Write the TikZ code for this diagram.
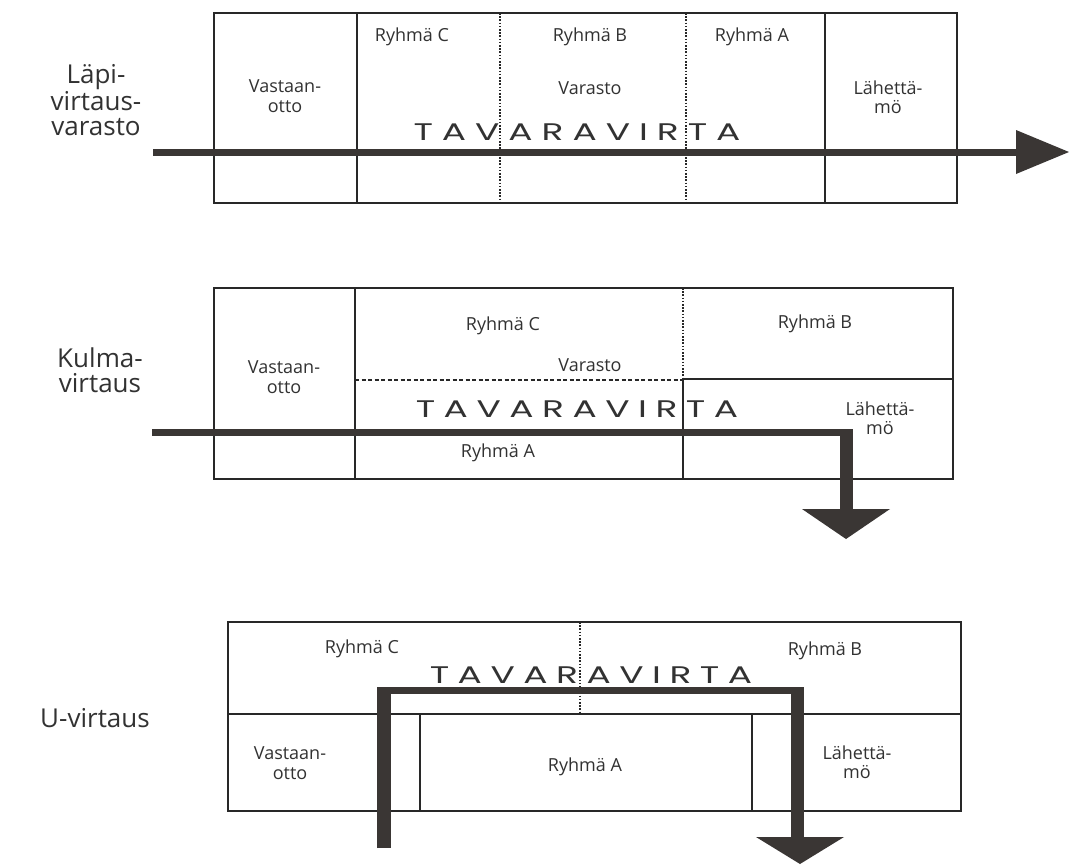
\documentclass[tikz,border=0pt]{standalone}
\usepackage{graphicx}
\usepackage{fontspec}
\setmainfont{Open Sans}
\newfontfamily\flowfont{Poppins}
\definecolor{flowgray}{RGB}{58,54,52}
\definecolor{inkgray}{RGB}{40,40,40}
\definecolor{txtgray}{RGB}{50,50,50}
% wide, letter-spaced flow label; the argument is the unscaled width
\newcommand{\flowword}[1]{\scalebox{1.5}[1]{\makebox[#1]{T\hfill A\hfill V\hfill A\hfill R\hfill A\hfill V\hfill I\hfill R\hfill T\hfill A}}}
\begin{document}
\begin{tikzpicture}[x=1pt,y=-1pt,
  wall/.style={draw=inkgray, line width=1.5pt},
  thinwall/.style={draw=inkgray, line width=1.1pt},
  dotline/.style={draw=inkgray, line width=2pt, dash pattern=on 1.6pt off 1.6pt},
  dashline/.style={draw=inkgray, line width=1.1pt, dash pattern=on 4pt off 2.5pt},
  flowh/.style={draw=flowgray, line width=7pt},
  flowv/.style={draw=flowgray, line width=13pt},
  flowhead/.style={fill=flowgray},
  cell/.style={font=\fontsize{18}{19.5}\selectfont, text=txtgray, align=center, inner sep=0pt},
  side/.style={font=\fontsize{26}{25}\selectfont, text=txtgray, align=center, inner sep=0pt},
  flowtext/.style={font=\flowfont\fontsize{24}{26}\selectfont, text=txtgray, inner sep=0pt},
]
\useasboundingbox[fill=white] (0,0) rectangle (1069,865);

% ---------- Panel 1: Läpivirtausvarasto ----------
\node[side] (l1) at (96,100) {Läpi-\\virtaus-\\varasto};
\draw[wall] (214,13) rectangle (957,203);
\draw[wall] (357,13) -- (357,203);
\draw[wall] (825,13) -- (825,203);
\draw[dotline] (500,13) -- (500,203);
\draw[dotline] (686,13) -- (686,203);
\node[cell] (a1) at (285,96) {Vastaan-\\otto};
\node[cell] (c1) at (412,37) {Ryhmä C};
\node[cell] (b1) at (590,37) {Ryhmä B};
\node[cell] (r1) at (752,37) {Ryhmä A};
\node[cell] (v1) at (590,88) {Varasto};
\node[cell] (s1) at (888,97) {Lähettä-\\mö};
\node[flowtext] (t1) at (577,132) {\flowword{218pt}};
\coordinate (f1a) at (153,152);
\coordinate (f1b) at (1018,152);
\coordinate (f1tip) at (1069,152);
\draw[flowh] (f1a) -- (f1b);
\fill[flowhead] (1016,130) -- (f1tip) -- (1016,174) -- cycle;

% ---------- Panel 2: Kulmavirtaus ----------
\node[side] (l2) at (100,370) {Kulma-\\virtaus};
\draw[wall] (214,288) rectangle (953,479);
\draw[wall] (355,288) -- (355,479);
\draw[dashline] (355,380) -- (683,380);
\draw[dotline] (683,288) -- (683,380);
\draw[thinwall] (683,380) -- (683,479);
\draw[thinwall] (683,379) -- (953,379);
\node[cell] (a2) at (284,377) {Vastaan-\\otto};
\node[cell] (c2) at (503,326) {Ryhmä C};
\node[cell] (v2) at (590,365) {Varasto};
\node[cell] (r2) at (498,453) {Ryhmä A};
\node[cell] (b2) at (815,324) {Ryhmä B};
\node[cell] (s2) at (880,418) {Lähettä-\\mö};
\node[flowtext] (t2) at (577,409) {\flowword{215pt}};
\coordinate (f2a) at (152,432);
\coordinate (f2c) at (846,432);
\coordinate (f2d) at (846,510);
\coordinate (f2tip) at (846,539);
\draw[flowh] (f2a) -- ([xshift=6.5pt]f2c);
\draw[flowv] ([yshift=-3.5pt]f2c) -- (f2d);
\fill[flowhead] (802,509) -- (890,509) -- (f2tip) -- cycle;

% ---------- Panel 3: U-virtaus ----------
\node[side] (l3) at (95,718) {U-virtaus};
\draw[wall] (228,622) rectangle (961,811);
\draw[thinwall] (228,714) -- (961,714);
\draw[dotline] (580,622) -- (580,714);
\draw[wall] (420,714) -- (420,811);
\draw[wall] (752,714) -- (752,811);
\node[cell] (c3) at (362,649) {Ryhmä C};
\node[cell] (b3) at (825,651) {Ryhmä B};
\node[cell] (a3) at (290,763) {Vastaan-\\otto};
\node[cell] (r3) at (585,767) {Ryhmä A};
\node[cell] (s3) at (857,762) {Lähettä-\\mö};
\node[flowtext] (t3) at (591,675) {\flowword{215pt}};
\coordinate (f3a) at (384,848);
\coordinate (f3b) at (384,690);
\coordinate (f3c) at (797,690);
\coordinate (f3d) at (797,838);
\coordinate (f3tip) at (800,864);
\draw[flowv, line width=14pt] (f3a) -- ([yshift=-3.5pt]f3b);
\draw[flowh] ([xshift=-7pt]f3b) -- ([xshift=6.5pt]f3c);
\draw[flowv] ([yshift=-3.5pt]f3c) -- (f3d);
\fill[flowhead] (756,837) -- (844,837) -- (f3tip) -- cycle;
\end{tikzpicture}
\end{document}
